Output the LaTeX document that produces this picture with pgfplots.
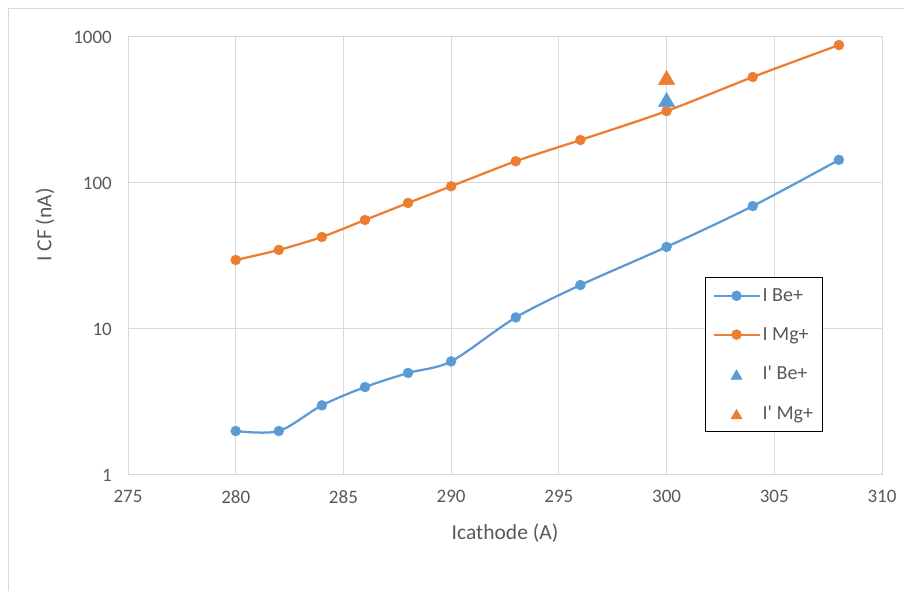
\documentclass[border=0pt]{standalone}
\usepackage{fontspec}
\newfontfamily\carl{Carlito}
\usepackage{pgfplots}
\pgfplotsset{compat=1.18}
\definecolor{cBe}{HTML}{5B9BD5}
\definecolor{cMg}{HTML}{ED7D31}
\definecolor{gridc}{HTML}{D9D9D9}
\definecolor{txt}{HTML}{595959}
\begin{document}
\begin{tikzpicture}[x=1pt,y=1pt]
\path[use as bounding box] (0,0) rectangle (904,591);
\draw[gridc, line width=1pt] (8.5,0) -- (8.5,582.5) -- (904,582.5);
\begin{axis}[
  at={(128pt,116pt)}, anchor=south west, scale only axis,
  width=754pt, height=438pt,
  xmin=275, xmax=310, ymode=log, ymin=1, ymax=1000,
  xtick={275,280,...,310},
  ytick={1,10,100,1000}, yticklabels={1,10,100,1000},
  grid=major, major grid style={gridc, line width=1pt},
  axis line style={gridc, line width=1pt},
  major tick length=0pt, minor tick length=0pt,
  /pgf/number format/assume math mode=true,
  /pgf/number format/1000 sep={},
  tick label style={font=\carl\fontsize{19}{22}\selectfont, text=txt, inner sep=0pt},
  xticklabel style={anchor=north, yshift=-15pt},
  yticklabel style={anchor=east, xshift=-16pt},
  xlabel={Icathode (A)}, ylabel={I CF (nA)},
  label style={font=\carl\fontsize{21.5}{24}\selectfont, text=txt},
  xlabel style={at={(axis description cs:0.5,0)}, anchor=center, yshift=-58pt},
  ylabel style={at={(axis description cs:-0.110,0.571)}, anchor=center},
  legend style={at={(axis description cs:0.765,0.452)}, anchor=north west,
    draw=black, line width=1.2pt, fill=white, text=txt,
    font=\carl\fontsize{20}{23}\selectfont,
    inner xsep=7pt, inner ysep=9pt, row sep=20.5pt},
  legend cell align=left,
  legend image code/.code={\draw[mark repeat=2,mark phase=2,#1] plot coordinates {(0pt,0pt) (23pt,0pt) (46pt,0pt)};},
]
\addplot[cBe, line width=2.25pt, smooth, mark=*, mark size=5pt,
  mark options={fill=cBe, draw=cBe, line width=0.4pt}] coordinates {
  (280,2) (282,2) (284,3) (286,4) (288,5) (290,6) (293,12) (296,20) (300,36.5) (304,69.5) (308,144)};
\addlegendentry{I Be+}
\addplot[cMg, line width=2.25pt, smooth, mark=*, mark size=5pt,
  mark options={fill=cMg, draw=cMg, line width=0.4pt}] coordinates {
  (280,29.7) (282,34.8) (284,42.7) (286,55.8) (288,73) (290,95) (293,141) (296,197) (300,311) (304,532) (308,881)};
\addlegendentry{I Mg+}
\addplot[only marks, mark=triangle*, mark size=9.5pt,
  mark options={fill=cBe, draw=cBe, line width=0.4pt, yshift=-2.4pt},
  legend image post style={mark size=6.5pt}] coordinates {(300,373)};
\addlegendentry{I{\char"27} Be+}
\addplot[only marks, mark=triangle*, mark size=9.5pt,
  mark options={fill=cMg, draw=cMg, line width=0.4pt, yshift=-2.4pt},
  legend image post style={mark size=6.5pt}] coordinates {(300,528)};
\addlegendentry{I{\char"27} Mg+}
\end{axis}
\end{tikzpicture}
\end{document}
